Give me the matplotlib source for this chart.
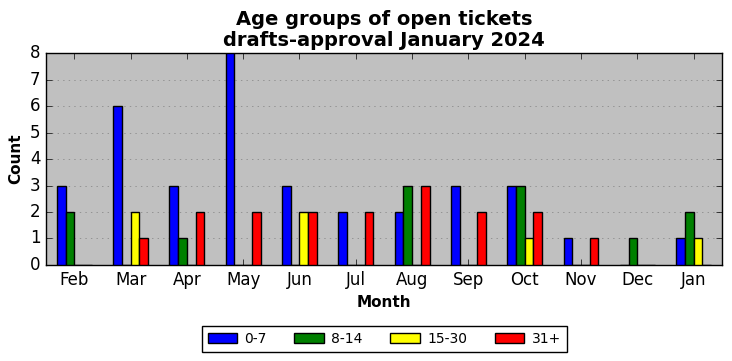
import matplotlib
matplotlib.use("Agg")
import matplotlib.pyplot as plt
import numpy as np

months = ["Feb", "Mar", "Apr", "May", "Jun", "Jul", "Aug", "Sep", "Oct", "Nov", "Dec", "Jan"]
age_0_7 = [3, 6, 3, 8, 3, 2, 2, 3, 3, 1, 0, 1]
age_8_14 = [2, 0, 1, 0, 0, 0, 3, 0, 3, 0, 1, 2]
age_15_30 = [0, 2, 0, 0, 2, 0, 0, 0, 1, 0, 0, 1]
age_31_plus = [0, 1, 2, 2, 2, 2, 3, 2, 2, 1, 0, 0]

series = [("0-7", age_0_7, "blue"), ("8-14", age_8_14, "green"),
          ("15-30", age_15_30, "yellow"), ("31+", age_31_plus, "red")]

plt.style.use("classic")
fig = plt.figure(figsize=(7.32, 3.61), dpi=100, facecolor="white")
ax = fig.add_axes([0.063, 0.266, 0.923, 0.587])
ax.set_facecolor("silver")

x = np.arange(len(months))
w = 0.155
for i, (name, vals, col) in enumerate(series):
    ax.bar(x - 2 * w + i * w, vals, w, align="edge", color=col,
           edgecolor="black", linewidth=1, label=name, zorder=3)

ax.set_xlim(-0.5, len(months) - 0.5)
ax.set_ylim(0, 8)
ax.set_xticks(x)
ax.set_xticklabels(months)
ax.yaxis.grid(True, linestyle=":", color="gray", zorder=0)
ax.set_axisbelow(True)
ax.tick_params(labelsize=12)

ax.set_title("Age groups of open tickets\ndrafts-approval January 2024",
             fontsize=14, fontweight="bold", linespacing=1.15)
ax.set_xlabel("Month", fontsize=11, fontweight="bold")
ax.set_ylabel("Count", fontsize=11, fontweight="bold")

fig.legend(loc="lower center", bbox_to_anchor=(0.525, 0.007), ncol=4,
           fontsize=10, frameon=True, fancybox=False, edgecolor="black",
           handlelength=2.1, handletextpad=0.55, columnspacing=2.0)

fig.savefig("out.png", dpi=100, facecolor="white")
